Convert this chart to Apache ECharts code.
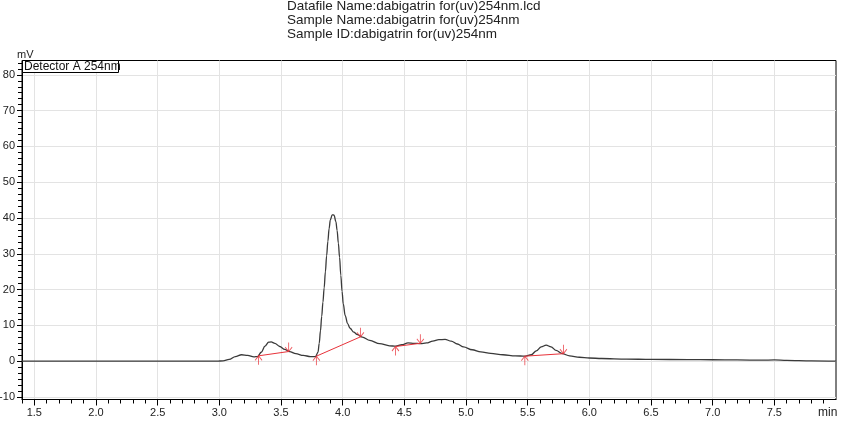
<!DOCTYPE html>
<html>
<head>
<meta charset="utf-8">
<script src="https://cdn.jsdelivr.net/npm/echarts@6/dist/echarts.min.js"></script>
<style>html,body{margin:0;padding:0;background:#fff}#c{width:845px;height:426px}</style>
</head>
<body>
<div id="c"></div>
<script>
// ---- data ----
var timeMin = [1.40,2.00,2.50,2.98,3.03,3.08,3.13,3.18,3.23,3.28,3.31,3.34,3.37,3.40,3.42,3.45,3.49,3.53,3.57,3.62,3.68,3.74,3.78,
  3.80,3.81,3.82,3.83,3.84,3.85,3.86,3.87,3.88,3.89,3.90,3.915,3.93,3.945,3.955,3.965,3.975,3.985,3.995,4.005,4.02,4.04,4.06,4.09,4.12,4.16,
  4.22,4.30,4.38,4.43,4.48,4.53,4.58,4.63,4.68,4.73,4.78,4.83,4.88,4.93,4.98,5.05,5.12,5.20,5.30,5.40,5.48,5.53,5.57,5.61,5.65,5.69,5.73,5.78,
  5.84,5.92,6.00,6.10,6.30,6.50,6.80,7.00,7.20,7.40,7.50,7.60,7.80,8.00];
var signalMV = [0,0,0,0,0.1,0.5,1.3,1.8,1.6,1.2,1.3,2.5,4.2,5.3,5.4,5.0,4.1,3.3,2.7,2.1,1.6,1.3,1.3,
  2.5,5,8.5,12.5,16.5,20.5,25,29.5,33.5,37,39.5,40.9,40.8,39,36.5,33,29,24,19.5,16,12.8,10.5,9.2,8.1,7.4,6.7,
  5.8,4.9,4.3,4.2,4.6,5.1,5.0,4.9,5.1,5.6,6.0,6.1,5.6,4.8,4.0,3.2,2.6,2.2,1.8,1.5,1.4,1.8,2.9,4.0,4.5,4.0,3.0,2.1,
  1.5,1.1,0.9,0.75,0.6,0.5,0.45,0.4,0.35,0.3,0.35,0.25,0.1,0.0];
// integration baselines: start and end points [time, mV]
var baseStart = [[3.318,1.5],[3.787,1.4],[4.428,4.1],[5.477,1.4]];
var baseEnd   = [[3.562,2.7],[4.144,6.8],[4.630,5.0],[5.790,2.1]];
// axis ticks
var xTicks = [1.5,2.0,2.5,3.0,3.5,4.0,4.5,5.0,5.5,6.0,6.5,7.0,7.5];
var yTicks = [-10,0,10,20,30,40,50,60,70,80];
var titleLines = ['Datafile Name:dabigatrin for(uv)254nm.lcd','Sample Name:dabigatrin for(uv)254nm','Sample ID:dabigatrin for(uv)254nm'];
var detectorLabel = 'Detector A 254nm';

var X_MIN = 1.4, X_MAX = 8.0, Y_MIN = -10.7, Y_MAX = 84;
var xMinor = [], yMinor = [];
for (var i = 0; i <= 66; i++) { var v = +(X_MIN + i * 0.1).toFixed(2); if (Math.abs(v * 2 - Math.round(v * 2)) > 1e-6) xMinor.push(v); }
for (var j = -60; j <= 500; j++) { var w = +(j * 10 / 6).toFixed(4); if (w >= Y_MIN && w <= Y_MAX && Math.abs(w / 10 - Math.round(w / 10)) > 1e-6) yMinor.push(w); }

var FONT = 'Liberation Sans, Arial, sans-serif';
var RED = '#e8323a';
var chart = echarts.init(document.getElementById('c'), null, {renderer: 'canvas'});
var line = timeMin.map(function (t, k) { return [t, signalMV[k]]; });

var series = [{
  type: 'line', data: line, xAxisIndex: 0, yAxisIndex: 0, showSymbol: false, symbol: 'none',
  smooth: 0.35, smoothMonotone: 'x',
  lineStyle: {color: '#3a3a3a', width: 1.3}, z: 3, silent: true
}];
baseStart.forEach(function (s, k) {
  series.push({type: 'line', data: [s, baseEnd[k]], symbol: 'none', lineStyle: {color: RED, width: 1}, z: 4, silent: true});
});
var arrowDown = 'path://M5,0L5,10M1,5L5,10L9,5';
var arrowUp = 'path://M5,10L5,0M1,5L5,0L9,5';
series.push({type: 'scatter', data: baseStart, symbol: arrowUp, symbolSize: [7, 9], symbolOffset: [0, 4.5],
  itemStyle: {color: 'rgba(0,0,0,0)', borderColor: RED, borderWidth: 1}, z: 5, silent: true});
series.push({type: 'scatter', data: baseEnd, symbol: arrowDown, symbolSize: [7, 9], symbolOffset: [0, -4.5],
  itemStyle: {color: 'rgba(0,0,0,0)', borderColor: RED, borderWidth: 1}, z: 5, silent: true});

var graphics = [];
titleLines.forEach(function (t, k) {
  graphics.push({type: 'text', x: 287, y: -1 + k * 14, style: {text: t, font: '13.5px ' + FONT, fill: '#222'}});
});
graphics.push({type: 'rect', shape: {x: 22.5, y: 60.5, width: 96, height: 12}, style: {fill: '#fff', stroke: '#000', lineWidth: 1}, z: 10});
graphics.push({type: 'text', x: 24, y: 60.5, style: {text: detectorLabel, font: '12px ' + FONT, fill: '#111'}, z: 11});
graphics.push({type: 'text', x: 17, y: 49, style: {text: 'mV', font: '11px ' + FONT, fill: '#222'}});
graphics.push({type: 'text', x: 818, y: 406.5, style: {text: 'min', font: '12px ' + FONT, fill: '#222'}});

var option = {
  animation: false,
  backgroundColor: '#fff',
  textStyle: {fontFamily: FONT},
  grid: {left: 22, right: 9, top: 60.5, bottom: 26.5, containLabel: false, outerBoundsMode: 'none', show: true, borderColor: '#000', borderWidth: 1, backgroundColor: 'transparent'},
  xAxis: [{
    type: 'value', min: X_MIN, max: X_MAX,
    axisLine: {show: true, onZero: false, lineStyle: {color: '#000', width: 1}},
    axisTick: {show: true, length: 6, customValues: xTicks, lineStyle: {color: '#000'}},
    axisLabel: {customValues: xTicks, margin: 8, fontSize: 11, color: '#222', fontFamily: FONT, formatter: function (v) { return v.toFixed(1); }},
    splitLine: {show: true, lineStyle: {color: '#e3e3e3', width: 1}}
  }, {
    type: 'value', min: X_MIN, max: X_MAX, position: 'bottom',
    axisLine: {show: false, onZero: false}, axisTick: {show: true, length: 4, customValues: xMinor, lineStyle: {color: '#000'}},
    axisLabel: {show: false}, splitLine: {show: false}
  }],
  yAxis: [{
    type: 'value', min: Y_MIN, max: Y_MAX,
    axisLine: {show: true, onZero: false, lineStyle: {color: '#000', width: 1}},
    axisTick: {show: true, length: 5, customValues: yTicks, lineStyle: {color: '#000'}},
    axisLabel: {customValues: yTicks, margin: 7, fontSize: 11, color: '#222', fontFamily: FONT},
    splitLine: {show: true, lineStyle: {color: '#e3e3e3', width: 1}}
  }, {
    type: 'value', min: Y_MIN, max: Y_MAX, position: 'left',
    axisLine: {show: false, onZero: false}, axisTick: {show: true, length: 4, customValues: yMinor, lineStyle: {color: '#000'}},
    axisLabel: {show: false}, splitLine: {show: false}
  }],
  series: series,
  graphic: graphics
};
chart.setOption(option);
</script>
</body>
</html>
